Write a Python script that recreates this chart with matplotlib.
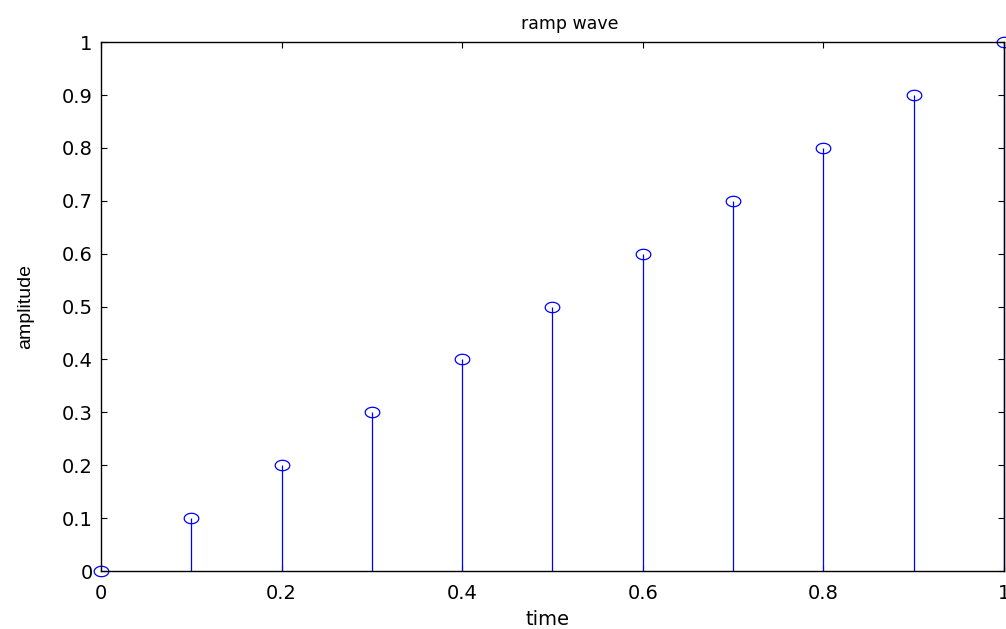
import numpy as np
import matplotlib.pyplot as plt
from matplotlib.path import Path

plt.rcParams['font.family'] = ['DejaVu Sans']

# ramp samples
t = [0.0, 0.1, 0.2, 0.3, 0.4, 0.5, 0.6, 0.7, 0.8, 0.9, 1.0]
amp = [0.0, 0.1, 0.2, 0.3, 0.4, 0.5, 0.6, 0.7, 0.8, 0.9, 1.0]
xticks = [0, 0.2, 0.4, 0.6, 0.8, 1]
xticklabels = ['0', '0.2', '0.4', '0.6', '0.8', '1']
yticks = [0, 0.1, 0.2, 0.3, 0.4, 0.5, 0.6, 0.7, 0.8, 0.9, 1]
yticklabels = ['0', '0.1', '0.2', '0.3', '0.4', '0.5', '0.6', '0.7', '0.8', '0.9', '1']

# slightly flattened circle, like the stretched matlab marker
th = np.linspace(0, 2 * np.pi, 60)
ellipse = Path(np.column_stack([0.7 * np.cos(th), 0.5 * np.sin(th)]), closed=True)

fig = plt.figure(figsize=(10.06, 6.29), dpi=100)
ax = fig.add_axes([0.1004, 0.0922, 0.8976, 0.8408])

ax.vlines(t, 0, amp, color='#0000ff', linewidth=0.9, clip_on=False)
ax.plot(t, amp, linestyle='none', marker=ellipse, markersize=10.5,
        markerfacecolor='none', markeredgecolor='#0000ff', markeredgewidth=0.9,
        clip_on=False)

ax.set_xlim(0, 1)
ax.set_ylim(0, 1)
ax.set_xticks(xticks)
ax.set_xticklabels(xticklabels)
ax.set_yticks(yticks)
ax.set_yticklabels(yticklabels)
ax.tick_params(direction='in', length=4, width=0.8, top=True, right=True,
               labelsize=14)
ax.tick_params(axis='x', pad=9)
ax.tick_params(axis='y', pad=6)
for s in ax.spines.values():
    s.set_linewidth(1.0)

# title and labels placed like the matlab figure
ax.text(0.519, 1.0246, 'ramp wave', transform=ax.transAxes, fontsize=12.5,
        ha='center', va='baseline')
ax.text(0.495, -0.102, 'time', transform=ax.transAxes, fontsize=14,
        ha='center', va='baseline')
ax.text(-0.0836, 0.5, 'amplitude', transform=ax.transAxes, fontsize=14,
        family='Liberation Sans', rotation=90, ha='center', va='center')

fig.savefig('out.png', dpi=100)
